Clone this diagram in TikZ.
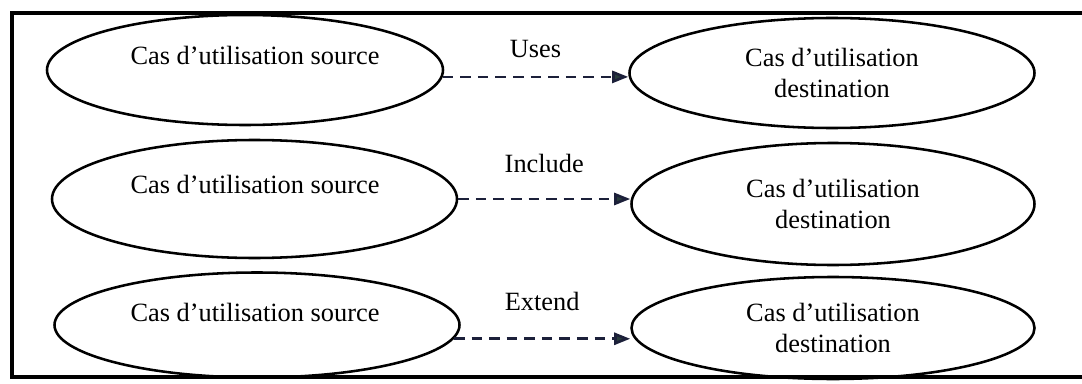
\documentclass[tikz,border=0pt]{standalone}
\usepackage{fontspec}
\setmainfont{Liberation Serif}
\usepackage{tikz}
\usetikzlibrary{positioning,arrows.meta,shapes}

\definecolor{dashcol}{RGB}{28,32,58}
\definecolor{tipcol}{RGB}{40,60,60}

\begin{document}
\begin{tikzpicture}[
        usecase/.style={ellipse, draw, line width=1.45pt, minimum width=8.1cm, minimum height=2.2cm, inner sep=0pt},
        uctext/.style={font=\fontsize{15}{15}\selectfont, align=center, inner sep=0pt},
        rel/.style={dashed, dash pattern=on 6pt off 4pt, line width=1.5pt, draw=dashcol,
                    -{Triangle[length=0.32cm, width=0.24cm, fill=tipcol]}},
        rellabel/.style={font=\fontsize{15}{15}\selectfont, inner sep=0pt},
        frame/.style={line width=1.9pt}
    ]
    \useasboundingbox (0,0) rectangle (21.64,-7.68);

    % Outer frame (open on the right)
    \draw[frame] (21.64,-0.26) -- (0.24,-0.26) -- (0.24,-7.54) -- (21.64,-7.54);

    % Source use cases
    \node[usecase, minimum width=7.92cm] (src1) at (4.9,-1.4) {};
    \node[uctext] (src1txt) at (5.1,-1.1) {Cas d’utilisation source};
    \node[usecase, minimum height=2.36cm] (src2) at (5.09,-3.98) {};
    \node[uctext] (src2txt) at (5.1,-3.68) {Cas d’utilisation source};
    \node[usecase, minimum height=2.1cm] (src3) at (5.14,-6.5) {};
    \node[uctext] (src3txt) at (5.1,-6.24) {Cas d’utilisation source};

    % Destination use cases
    \node[usecase, uctext, minimum width=8.1cm, minimum height=2.2cm] (dst1) at (16.64,-1.46) {Cas d’utilisation\\[3pt]destination};
    \node[usecase, uctext, minimum width=8.06cm, minimum height=2.44cm] (dst2) at (16.66,-4.08) {Cas d’utilisation\\[3pt]destination};
    \node[usecase, uctext, minimum width=8.06cm, minimum height=2.04cm] (dst3) at (16.66,-6.56) {Cas d’utilisation\\[3pt]destination};

    % Relations
    \draw[rel] (src1.-2) -- node[rellabel, midway, above=0.36cm] (uses) {Uses} (dst1.west |- src1.-2);
    \draw[rel] (src2.east) -- node[rellabel, midway, above=0.5cm] (include) {Include} (dst2.west |- src2.east);
    \draw[rel] (src3.-4) -- node[rellabel, midway, above=0.54cm] (extend) {Extend} (dst3.west |- src3.-4);
\end{tikzpicture}
\end{document}
